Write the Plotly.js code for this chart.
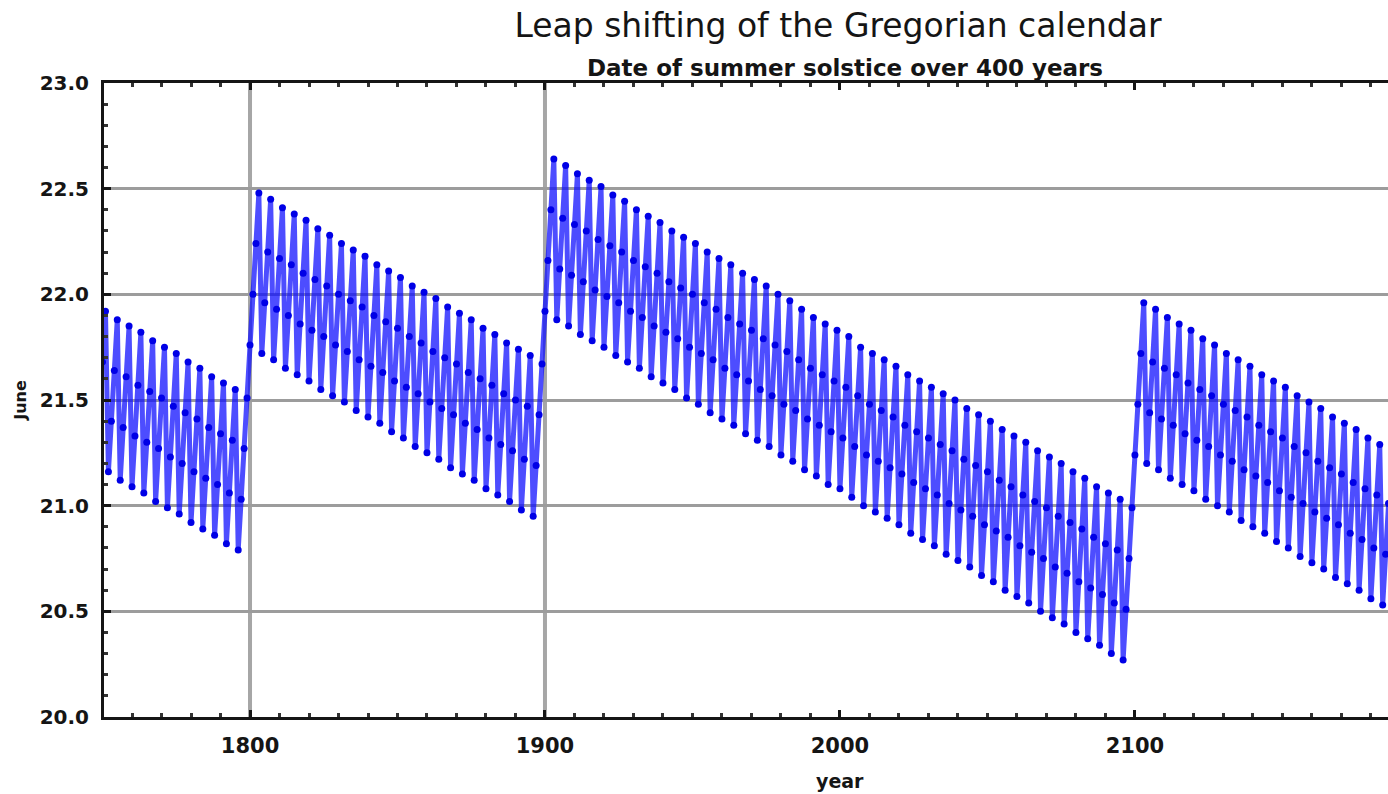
<!DOCTYPE html>
<html>
<head>
<meta charset="utf-8">
<script src="https://cdn.plot.ly/plotly-3.0.1.min.js"></script>
<style>
html,body{margin:0;padding:0;background:#fff;overflow:hidden}
#chart{width:1388px;height:794px}
</style>
</head>
<body>
<div id="chart"></div>
<script>
// Date of the June solstice (day of June, UT, fractional) per year
const startYears = [1750, 1800, 1900, 2000, 2100];

const juneDay1750s = [
  21.68, 21.92,
  21.16, 21.40, 21.64, 21.88,
  21.12, 21.37, 21.61, 21.85,
  21.09, 21.33, 21.57, 21.82,
  21.06, 21.30, 21.54, 21.78,
  21.02, 21.27, 21.51, 21.75,
  20.99, 21.23, 21.47, 21.72,
  20.96, 21.20, 21.44, 21.68,
  20.92, 21.16, 21.41, 21.65,
  20.89, 21.13, 21.37, 21.61,
  20.86, 21.10, 21.34, 21.58,
  20.82, 21.06, 21.31, 21.55,
  20.79, 21.03, 21.27, 21.51
];

const juneDay1800s = [
  21.76, 22.00, 22.24, 22.48,
  21.72, 21.96, 22.20, 22.45,
  21.69, 21.93, 22.17, 22.41,
  21.65, 21.90, 22.14, 22.38,
  21.62, 21.86, 22.10, 22.35,
  21.59, 21.83, 22.07, 22.31,
  21.55, 21.80, 22.04, 22.28,
  21.52, 21.76, 22.00, 22.24,
  21.49, 21.73, 21.97, 22.21,
  21.45, 21.69, 21.94, 22.18,
  21.42, 21.66, 21.90, 22.14,
  21.39, 21.63, 21.87, 22.11,
  21.35, 21.59, 21.84, 22.08,
  21.32, 21.56, 21.80, 22.04,
  21.28, 21.53, 21.77, 22.01,
  21.25, 21.49, 21.73, 21.98,
  21.22, 21.46, 21.70, 21.94,
  21.18, 21.43, 21.67, 21.91,
  21.15, 21.39, 21.63, 21.88,
  21.12, 21.36, 21.60, 21.84,
  21.08, 21.32, 21.57, 21.81,
  21.05, 21.29, 21.53, 21.77,
  21.02, 21.26, 21.50, 21.74,
  20.98, 21.22, 21.47, 21.71,
  20.95, 21.19, 21.43, 21.67
];

const juneDay1900s = [
  21.92, 22.16, 22.40, 22.64,
  21.88, 22.12, 22.36, 22.61,
  21.85, 22.09, 22.33, 22.57,
  21.81, 22.06, 22.30, 22.54,
  21.78, 22.02, 22.26, 22.51,
  21.75, 21.99, 22.23, 22.47,
  21.71, 21.96, 22.20, 22.44,
  21.68, 21.92, 22.16, 22.40,
  21.65, 21.89, 22.13, 22.37,
  21.61, 21.85, 22.10, 22.34,
  21.58, 21.82, 22.06, 22.30,
  21.55, 21.79, 22.03, 22.27,
  21.51, 21.75, 22.00, 22.24,
  21.48, 21.72, 21.96, 22.20,
  21.44, 21.69, 21.93, 22.17,
  21.41, 21.65, 21.89, 22.14,
  21.38, 21.62, 21.86, 22.10,
  21.34, 21.59, 21.83, 22.07,
  21.31, 21.55, 21.79, 22.04,
  21.28, 21.52, 21.76, 22.00,
  21.24, 21.48, 21.73, 21.97,
  21.21, 21.45, 21.69, 21.93,
  21.17, 21.41, 21.65, 21.89,
  21.14, 21.38, 21.62, 21.86,
  21.10, 21.35, 21.59, 21.83
];

const juneDay2000s = [
  21.08, 21.32, 21.56, 21.80,
  21.04, 21.28, 21.52, 21.75,
  21.00, 21.24, 21.48, 21.72,
  20.97, 21.21, 21.45, 21.69,
  20.94, 21.18, 21.42, 21.66,
  20.91, 21.15, 21.38, 21.62,
  20.87, 21.11, 21.35, 21.59,
  20.84, 21.08, 21.32, 21.56,
  20.81, 21.05, 21.29, 21.53,
  20.77, 21.01, 21.26, 21.50,
  20.74, 20.98, 21.22, 21.46,
  20.71, 20.95, 21.19, 21.43,
  20.67, 20.91, 21.16, 21.40,
  20.64, 20.88, 21.12, 21.36,
  20.60, 20.85, 21.09, 21.33,
  20.57, 20.81, 21.05, 21.30,
  20.54, 20.78, 21.02, 21.26,
  20.50, 20.75, 20.99, 21.23,
  20.47, 20.71, 20.95, 21.20,
  20.44, 20.68, 20.92, 21.16,
  20.40, 20.64, 20.89, 21.13,
  20.37, 20.61, 20.85, 21.09,
  20.34, 20.58, 20.82, 21.06,
  20.30, 20.54, 20.79, 21.03,
  20.27, 20.51, 20.75, 20.99
];

const juneDay2100s = [
  21.24, 21.48, 21.72, 21.96,
  21.20, 21.44, 21.68, 21.93,
  21.17, 21.41, 21.65, 21.89,
  21.13, 21.38, 21.62, 21.86,
  21.10, 21.34, 21.58, 21.83,
  21.07, 21.31, 21.55, 21.79,
  21.03, 21.28, 21.52, 21.76,
  21.00, 21.24, 21.48, 21.72,
  20.97, 21.21, 21.45, 21.69,
  20.93, 21.17, 21.42, 21.66,
  20.90, 21.14, 21.38, 21.62,
  20.87, 21.11, 21.35, 21.59,
  20.83, 21.07, 21.32, 21.56,
  20.80, 21.04, 21.28, 21.52,
  20.76, 21.01, 21.25, 21.49,
  20.73, 20.97, 21.21, 21.46,
  20.70, 20.94, 21.18, 21.42,
  20.66, 20.91, 21.15, 21.39,
  20.63, 20.87, 21.11, 21.36,
  20.60, 20.84, 21.08, 21.32,
  20.56, 20.80, 21.05, 21.29,
  20.53, 20.77, 21.01
];

// Non-leap century years marked with vertical lines
const markedYears = [1800, 1900];

const titleText = 'Leap shifting of the Gregorian calendar';
const subtitleText = 'Date of summer solstice over 400 years';
const xTitleText = 'year';
const yTitleText = 'June';

const segments = [juneDay1750s, juneDay1800s, juneDay1900s, juneDay2000s, juneDay2100s];
const years = [];
const days = [];
segments.forEach((seg, s) => {
  seg.forEach((v, i) => { years.push(startYears[s] + i); days.push(v); });
});

const tickFont = {family: 'DejaVu Sans', size: 21, weight: 'bold', color: '#151515'};

const trace = {
  x: years,
  y: days,
  type: 'scatter',
  mode: 'lines+markers',
  line: {color: 'rgba(15,15,255,0.74)', width: 5},
  marker: {color: '#0000e6', size: 7},
  hoverinfo: 'x+y'
};

const layout = {
  width: 1388,
  height: 794,
  margin: {l: 104, r: 0, t: 83, b: 77},
  paper_bgcolor: '#ffffff',
  plot_bgcolor: '#ffffff',
  showlegend: false,
  title: {
    text: titleText,
    font: {family: 'DejaVu Sans', size: 33, color: '#151515'},
    xref: 'container', x: 838 / 1388, xanchor: 'center',
    yref: 'container', y: 1 - 25 / 794, yanchor: 'middle'
  },
  xaxis: {
    range: [1750.5, 2185.8],
    tick0: 1800, dtick: 100,
    ticks: 'inside', ticklen: 7, tickwidth: 3, tickcolor: '#151515',
    showline: true, linecolor: '#151515', linewidth: 3, mirror: 'ticks',
    showgrid: false, zeroline: false,
    tickfont: tickFont,
    ticklabelstandoff: 8,
    minor: {dtick: 10, ticks: 'inside', ticklen: 4, tickwidth: 3, tickcolor: '#333', showgrid: false}
  },
  yaxis: {
    range: [20, 23],
    tick0: 20, dtick: 0.5, tickformat: '.1f',
    ticks: 'inside', ticklen: 7, tickwidth: 3, tickcolor: '#151515',
    showline: true, linecolor: '#151515', linewidth: 3,
    showgrid: true, gridcolor: '#9c9c9c', gridwidth: 3,
    zeroline: false,
    tickfont: {family: 'DejaVu Sans', size: 20, weight: 'bold', color: '#151515'},
    ticklabelstandoff: 8,
    minor: {dtick: 0.1, ticks: 'inside', ticklen: 4, tickwidth: 3, tickcolor: '#333', showgrid: false},
    title: {text: yTitleText, font: {family: 'DejaVu Sans', size: 16, weight: 'bold', color: '#151515'}, standoff: 10}
  },
  shapes: markedYears.map(yr => ({
    type: 'line', xref: 'x', yref: 'paper', x0: yr, x1: yr, y0: 0, y1: 1,
    line: {color: '#a6a6a6', width: 4}, layer: 'below'
  })),
  annotations: [
    {
      text: subtitleText, showarrow: false,
      xref: 'paper', x: (845 - 104) / 1284, xanchor: 'center',
      yref: 'paper', y: 1 + (83 - 68) / 634, yanchor: 'middle',
      font: {family: 'DejaVu Sans', size: 23, weight: 'bold', color: '#151515'}
    },
    {
      text: xTitleText, showarrow: false,
      xref: 'paper', x: (840 - 104) / 1284, xanchor: 'center',
      yref: 'paper', y: -(781 - 717) / 634, yanchor: 'middle',
      font: {family: 'DejaVu Sans', size: 19, weight: 'bold', color: '#151515'}
    }
  ]
};

Plotly.newPlot('chart', [trace], layout, {displayModeBar: false, responsive: false});
</script>
</body>
</html>
